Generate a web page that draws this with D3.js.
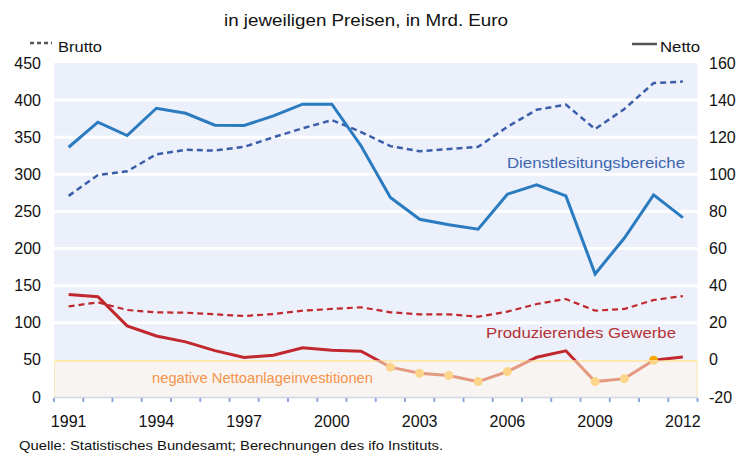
<!DOCTYPE html>
<html><head><meta charset="utf-8">
<script src="https://cdn.jsdelivr.net/npm/d3@7"></script>
<style>body{margin:0;background:#fff}svg{display:block}text{font-family:"Liberation Sans",Arial,sans-serif}</style>
</head><body>
<svg id="c" width="743" height="459"></svg>
<script>
const years = [1991,1992,1993,1994,1995,1996,1997,1998,1999,2000,2001,2002,2003,2004,2005,2006,2007,2008,2009,2010,2011,2012];
const dienstBrutto = [271,299,304,327,333,332,337,350,362,373,357,338,331,334,337,364,387,394,361,388,423,425];
const dienstNetto = [114.6,128.1,120.9,135.6,132.9,126.5,126.3,131.5,137.8,137.8,115.3,87.5,75.8,72.8,70.4,89.3,94.3,88.4,46.3,65.7,88.9,76.7];
const prodBrutto = [122,127.6,117.2,114.1,113.6,111.4,109.1,111.8,116.3,118.6,120.9,114.1,111.4,111.4,108.2,115,125.3,132,116.3,118.6,130.7,136];
const prodNetto = [35.2,34.0,18.3,12.9,9.7,5.0,1.3,2.5,6.5,5.2,4.7,-3.9,-7.2,-8.4,-11.7,-6.3,1.4,4.9,-11.7,-10.1,-0.2,1.6];
const leftTicks = [0,50,100,150,200,250,300,350,400,450];
const rightTicks = [-20,0,20,40,60,80,100,120,140,160];
const xLabels = [1991,1994,1997,2000,2003,2006,2009,2012];

const svg = d3.select("#c");
const L = 54, R = 697.5, T = 63, B = 397;
const x = d3.scaleBand().domain(years).range([L, R]).padding(0);
const cx = d => x(d) + x.bandwidth()/2;
const yL = d3.scaleLinear().domain([0,450]).range([B,T]);
const yR = d3.scaleLinear().domain([-20,160]).range([B,T]);
const zeroY = yR(0);

// background bands
svg.append("rect").attr("x",L).attr("y",T).attr("width",R-L).attr("height",zeroY-T).attr("fill","#ebf0fa");
leftTicks.filter(v=>v>50 && v<450).forEach(v=>{
  svg.append("line").attr("x1",L).attr("x2",R).attr("y1",yL(v)).attr("y2",yL(v)).attr("stroke","#fff").attr("stroke-width",3);
});
// negative region
svg.append("rect").attr("x",L).attr("y",zeroY).attr("width",R-L).attr("height",B-zeroY).attr("fill","#f8f4f1");
svg.append("line").attr("x1",L).attr("x2",R).attr("y1",zeroY+1).attr("y2",zeroY+1).attr("stroke","#fde9b2").attr("stroke-width",2);
svg.append("line").attr("x1",L).attr("x2",R).attr("y1",B+0.5).attr("y2",B+0.5).attr("stroke","#cfd6e8").attr("stroke-width",1.5);
svg.append("line").attr("x1",L+0.5).attr("x2",L+0.5).attr("y1",zeroY).attr("y2",B).attr("stroke","#fde9b2").attr("stroke-width",1);
svg.append("line").attr("x1",R-0.5).attr("x2",R-0.5).attr("y1",zeroY).attr("y2",B).attr("stroke","#fde9b2").attr("stroke-width",1);

// x ticks
const edges = years.map(y=>x(y)).concat([R]);
svg.selectAll(".xt").data(edges).enter().append("line")
  .attr("x1",d=>d).attr("x2",d=>d).attr("y1",B+1).attr("y2",B+5)
  .attr("stroke","#8fa8dc").attr("stroke-width",2);

// clip paths
const defs = svg.append("defs");
defs.append("clipPath").attr("id","neg").append("rect").attr("x",0).attr("y",zeroY).attr("width",743).attr("height",100);
defs.append("clipPath").attr("id","pos").append("rect").attr("x",0).attr("y",0).attr("width",743).attr("height",zeroY);

const lineL = d3.line().x((d,i)=>cx(years[i])).y(d=>yL(d));
const lineR = d3.line().x((d,i)=>cx(years[i])).y(d=>yR(d));

svg.append("path").attr("d",lineL(dienstBrutto)).attr("fill","none").attr("stroke","#3a5ea9").attr("stroke-width",2.5).attr("stroke-dasharray","6,4");
svg.append("path").attr("d",lineL(prodBrutto)).attr("fill","none").attr("stroke","#c0282d").attr("stroke-width",2.2).attr("stroke-dasharray","6,4");
svg.append("path").attr("d",lineR(dienstNetto)).attr("fill","none").attr("stroke","#2a7bbf").attr("stroke-width",3);
svg.append("path").attr("d",lineR(prodNetto)).attr("fill","none").attr("stroke","#c0282d").attr("stroke-width",3).attr("clip-path","url(#pos)");
svg.append("path").attr("d",lineR(prodNetto)).attr("fill","none").attr("stroke","#e39a80").attr("stroke-width",3).attr("clip-path","url(#neg)");

// dots at negative values
const negIdx = prodNetto.map((v,i)=>i).filter(i=>prodNetto[i]<0);
svg.selectAll(".dn").data(negIdx).enter().append("circle")
  .attr("cx",i=>cx(years[i])).attr("cy",i=>yR(prodNetto[i])).attr("r",4.5)
  .attr("fill","#fdd58a").attr("clip-path","url(#neg)");
svg.selectAll(".dp").data(negIdx).enter().append("circle")
  .attr("cx",i=>cx(years[i])).attr("cy",i=>yR(prodNetto[i])).attr("r",4.5)
  .attr("fill","#f5a800").attr("clip-path","url(#pos)");

// axes labels
svg.selectAll(".yl").data(leftTicks).enter().append("text")
  .attr("x",41).attr("y",d=>yL(d)).attr("dy","0.35em").attr("text-anchor","end")
  .attr("font-size",16).attr("fill","#111").text(d=>d);
svg.selectAll(".yr").data(rightTicks).enter().append("text")
  .attr("x",709).attr("y",d=>yR(d)).attr("dy","0.35em").attr("text-anchor","start")
  .attr("font-size",16).attr("fill","#111").text(d=>d);
svg.selectAll(".xl").data(xLabels).enter().append("text")
  .attr("x",d=>cx(d)).attr("y",427).attr("text-anchor","middle")
  .attr("font-size",16).attr("fill","#111").text(d=>d);

function txt(xp, yp, s, size, fill, len){
  return svg.append("text").attr("x",xp).attr("y",yp).attr("font-size",size).attr("fill",fill)
    .attr("textLength",len).attr("lengthAdjust","spacingAndGlyphs").text(s);
}
// title & legends
txt(224,26,"in jeweiligen Preisen, in Mrd. Euro",16.5,"#111",284);
svg.append("line").attr("x1",30).attr("x2",52).attr("y1",43).attr("y2",43).attr("stroke","#555").attr("stroke-width",2.5).attr("stroke-dasharray","4,3");
txt(58,52,"Brutto",15.5,"#111",44);
svg.append("line").attr("x1",632).attr("x2",657).attr("y1",44).attr("y2",44).attr("stroke","#555").attr("stroke-width",2.5);
txt(660,52,"Netto",15.5,"#111",40);

txt(507,168,"Dienstlesitungsbereiche",15.5,"#3d65b0",178);
txt(486,338,"Produzierendes Gewerbe",15.5,"#b53236",190);
txt(152,383,"negative Nettoanlageinvestitionen",14.5,"#f5934a",221);
txt(19,450,"Quelle: Statistisches Bundesamt; Berechnungen des ifo Instituts.",13,"#111",424);
</script>
</body></html>
